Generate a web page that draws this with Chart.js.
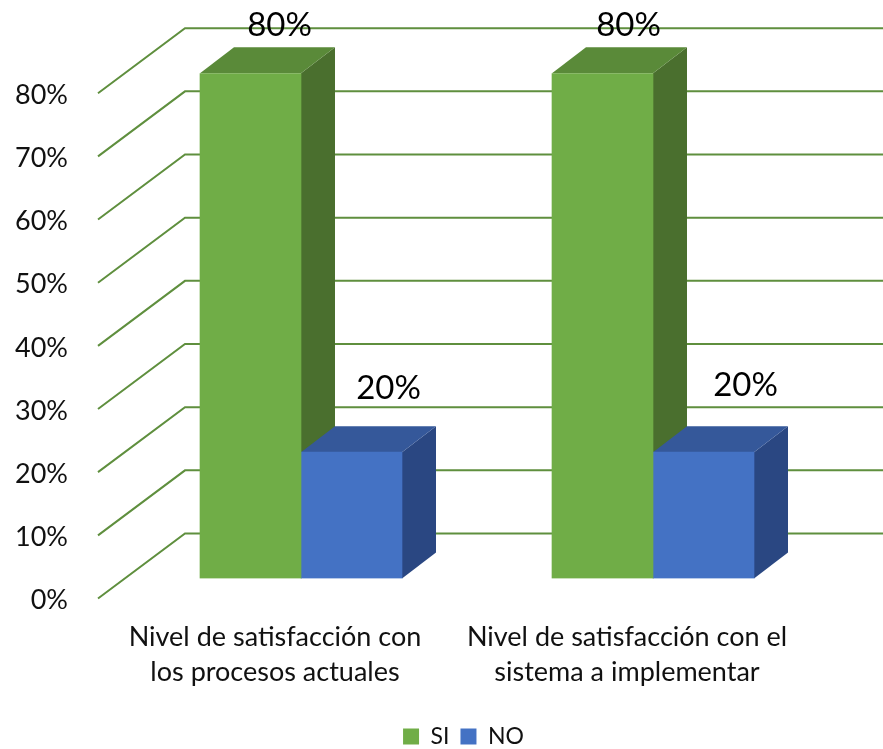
<!DOCTYPE html>
<html>
<head>
<meta charset="utf-8">
<style>
  html, body { margin: 0; padding: 0; background: #fff; }
  canvas { display: block; }
</style>
<script src="https://cdn.jsdelivr.net/npm/chart.js@4"></script>
</head>
<body>
<canvas id="satisfaccionChart" width="883" height="749"></canvas>
<script>
var categories = [
  ["Nivel de satisfacción con", "los procesos actuales"],
  ["Nivel de satisfacción con el", "sistema a implementar"]
];
var series_names = ["SI", "NO"];
var values_si = [0.8, 0.8];
var values_no = [0.2, 0.2];
var axis_max = 0.8;
var axis_step = 0.1;

var font_name = "Lato, Carlito, sans-serif";
var grid_color = "#5F8F3E";
var face_colors = ["#70AD47", "#4472C4"];
var top_colors = ["#5A8A39", "#35589A"];
var side_colors = ["#4A6F2E", "#2A4782"];
// data labels were moved by hand in the original
var label_dx = [[29, 26], [37, 42]];
var label_dy = [[-48, -48], [-64, -67]];

function pct(v) {
  return Math.round(v * 100) + "%";
}

var walls3d = {
  id: "walls3d",
  afterLayout: function (chart) {
    // legend sits right of centre and close to the bottom edge
    chart.legend.left += 49;
    chart.legend.right += 49;
    chart.legend.top += 9;
    chart.legend.bottom += 9;
  },
  beforeDatasetsDraw: function (chart) {
    var ctx = chart.ctx;
    var left = chart.chartArea.left;
    var yScale = chart.scales.y;
    ctx.save();
    ctx.strokeStyle = grid_color;
    ctx.lineWidth = 2;
    yScale.ticks.forEach(function (t) {
      var p = yScale.getPixelForValue(t.value);
      ctx.beginPath();
      ctx.moveTo(left - 27, p + 20);
      ctx.lineTo(left + 60, p - 45);
      ctx.lineTo(chart.width, p - 45);
      ctx.stroke();
    });
    // top and side faces of every bar
    var dx = 34, dy = -26;
    chart.data.datasets.forEach(function (ds, i) {
      chart.getDatasetMeta(i).data.forEach(function (bar) {
        var l = bar.x - bar.width / 2, r = bar.x + bar.width / 2;
        ctx.fillStyle = side_colors[i];
        ctx.beginPath();
        ctx.moveTo(r, bar.y);
        ctx.lineTo(r + dx, bar.y + dy);
        ctx.lineTo(r + dx, bar.base + dy);
        ctx.lineTo(r, bar.base);
        ctx.closePath();
        ctx.fill();
        ctx.fillStyle = top_colors[i];
        ctx.beginPath();
        ctx.moveTo(l, bar.y);
        ctx.lineTo(l + dx, bar.y + dy);
        ctx.lineTo(r + dx, bar.y + dy);
        ctx.lineTo(r, bar.y);
        ctx.closePath();
        ctx.fill();
      });
    });
    ctx.restore();
  },
  afterDatasetsDraw: function (chart) {
    var ctx = chart.ctx;
    ctx.save();
    ctx.font = "33px " + font_name;
    ctx.fillStyle = "#000";
    ctx.textAlign = "center";
    ctx.textBaseline = "middle";
    chart.data.datasets.forEach(function (ds, i) {
      chart.getDatasetMeta(i).data.forEach(function (bar, j) {
        ctx.fillText(pct(ds.data[j]), bar.x + label_dx[i][j], bar.y + label_dy[i][j]);
      });
    });
    ctx.restore();
  }
};

new Chart(document.getElementById("satisfaccionChart").getContext("2d"), {
  type: "bar",
  plugins: [walls3d],
  data: {
    labels: categories,
    datasets: [
      { label: series_names[0], data: values_si, backgroundColor: face_colors[0], borderWidth: 0, barThickness: 101 },
      { label: series_names[1], data: values_no, backgroundColor: face_colors[1], borderWidth: 0, barThickness: 101 }
    ]
  },
  options: {
    responsive: false,
    animation: false,
    layout: { padding: { top: 73, right: 54, left: 0, bottom: 0 } },
    plugins: {
      tooltip: { enabled: false },
      title: { display: false },
      legend: {
        position: "bottom",
        labels: {
          boxWidth: 16,
          boxHeight: 16,
          padding: 11,
          color: "#111",
          font: { family: font_name, size: 23 }
        }
      }
    },
    scales: {
      x: {
        grid: { display: false, drawTicks: false },
        border: { display: false },
        afterFit: function (scale) { scale.height = 126.5; },
        ticks: {
          autoSkip: false,
          maxRotation: 0,
          padding: 41.5,
          labelOffset: -26,
          color: "#111",
          font: { family: font_name, size: 27, lineHeight: 1.3 }
        }
      },
      y: {
        min: 0,
        max: axis_max,
        grid: { display: false, drawTicks: false },
        border: { display: false },
        afterFit: function (scale) { scale.width = 125; },
        ticks: {
          stepSize: axis_step,
          padding: 57,
          labelOffset: 22,
          color: "#111",
          font: { family: font_name, size: 27 },
          callback: function (v) { return pct(v); }
        }
      }
    }
  }
});
</script>
</body>
</html>
